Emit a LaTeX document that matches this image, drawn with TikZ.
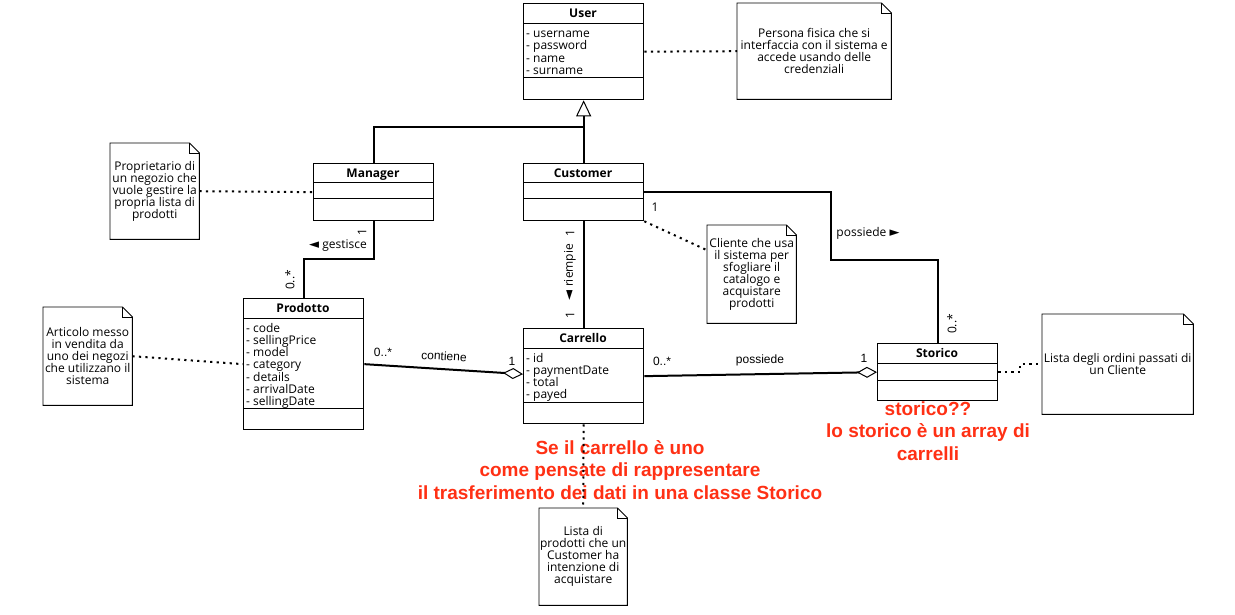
\documentclass[tikz,border=0pt]{standalone}
\usepackage{fontspec}
\setmainfont{Open Sans}
\newfontfamily\arialf{Liberation Sans}
\newfontfamily\symf{DejaVu Sans}
\usetikzlibrary{arrows.meta}
\definecolor{redann}{RGB}{255,48,20}
\newcommand\tightlines{\lineskiplimit=-100pt\lineskip=0pt}
\tikzset{
  classbox/.style={draw, line width=1.3pt, inner sep=0pt, anchor=north west, minimum width=120pt},
  sepline/.style={line width=1pt},
  classtitle/.style={anchor=base, inner sep=0pt, font=\fontsize{12}{12}\bfseries\selectfont},
  classattr/.style={anchor=north west, inner sep=0pt, align=left, font=\fontsize{12}{12.2}\selectfont\tightlines},
  notebox/.style={inner sep=0pt, anchor=north west, align=center, font=\fontsize{12}{12}\selectfont\tightlines},
  noteline/.style={line width=0.9pt},
  conn/.style={line width=2pt},
  dotline/.style={line width=2pt, dash pattern=on 2.2pt off 4.3pt},
  lbl/.style={inner sep=0pt, font=\fontsize{12}{12}\selectfont},
  albl/.style={inner sep=0pt, font=\arialf\fontsize{12}{12}\selectfont},
  redtxt/.style={inner sep=0pt, align=center, text=redann, font=\arialf\bfseries\fontsize{19}{22.7}\selectfont},
}
\newcommand\tri[1]{{\symf\fontsize{13}{13}\selectfont #1}}
% name, x, ytop, sep1 offset, sep2 offset, height, title, attributes
\newcommand\umlclass[8]{%
  \node[classbox, minimum height=#6pt] (#1) at (#2,#3) {};
  \draw[sepline] (#2,#3+#4) -- ++(120,0);
  \draw[sepline] (#2,#3+#5) -- ++(120,0);
  \node[classtitle] at (#2+60,#3+#4/2+4.4) {#7};
  \node[classattr] at (#2+3,#3+#4+5) {#8};
}
% name, x, y, w, h, text
\newcommand\umlnote[6]{%
  \node[notebox, minimum width=#4pt, minimum height=#5pt] (#1) at (#2,#3) {#6};
  \draw[noteline] (#1.north west) -- ([xshift=-10pt]#1.north east) -- ([yshift=-10pt]#1.north east) -- (#1.south east) -- (#1.south west) -- cycle;
  \draw[noteline] ([xshift=-10pt]#1.north east) |- ([yshift=-10pt]#1.north east);
}
\begin{document}
\begin{tikzpicture}[x=1pt,y=-1pt]
\fill[white] (0,0) rectangle (1235,615);
\useasboundingbox (0,0) rectangle (1235,615);

% classes
\umlclass{user}{523}{3}{21}{75}{96}{User}{\strut- username\\\strut- password\\\strut- name\\\strut- surname}
\umlclass{manager}{313}{163}{20}{36}{57}{Manager}{}
\umlclass{customer}{523}{163}{20}{36}{57}{Customer}{}
\umlclass{prodotto}{243}{298}{20}{110}{131}{Prodotto}{\strut- code\\\strut- sellingPrice\\\strut- model\\\strut- category\\\strut- details\\\strut- arrivalDate\\\strut- sellingDate}
\umlclass{carrello}{523}{328}{20}{74}{95}{Carrello}{\strut- id\\\strut- paymentDate\\\strut- total\\\strut- payed}
\umlclass{storico}{877}{343}{20}{37}{57}{Storico}{}

% notes
\umlnote{nuser}{737}{3}{154}{96}{Persona fisica che si\\interfaccia con il sistema e\\accede usando delle\\credenziali}
\umlnote{nmanager}{110}{143}{89}{96}{Proprietario di\\un negozio che\\vuole gestire la\\propria lista di\\prodotti}
\umlnote{ncustomer}{707}{225}{89}{98}{Cliente che usa\\il sistema per\\sfogliare il\\catalogo e\\acquistare\\prodotti}
\umlnote{nprodotto}{43}{307}{89}{98}{Articolo messo\\in vendita da\\uno dei negozi\\che utilizzano il\\sistema}
\umlnote{ncarrello}{539}{508}{88}{97}{Lista di\\prodotti che un\\Customer ha\\intenzione di\\acquistare}
\umlnote{nstorico}{1042}{314}{151}{100}{Lista degli ordini passati di\\un Cliente}

% generalization
\coordinate (genj) at (583,127);
\draw[conn] (manager.north) |- (genj);
\draw[conn, -{Triangle[open, length=16pt, width=15pt, line width=1pt]}] (customer.north) -- (user.south);

% gestisce
\draw[conn] (manager.south) -- ++(0,38) -| (prodotto.north);
\node[lbl, rotate=90] at (362,232) {1};
\node[lbl] at (338,246) {\tri{◄} gestisce};
\node[lbl, rotate=90] at (290,280) {0..*};

% riempie
\draw[conn] (customer.south) -- (carrello.north);
\node[lbl, rotate=90] at (570,233) {1};
\node[lbl, rotate=90] at (570,272) {\tri{◄} riempie};
\node[lbl, rotate=90] at (570,315) {1};

% contiene
\draw[conn, -{Diamond[open, length=20pt, width=11pt, line width=1pt]}] (prodotto.east) -- ([yshift=2pt]carrello.west);
\node[albl] at (383,352) {0..*};
\node[albl, rotate=-3] at (444,356) {contiene};
\node[albl] at (512,361) {1};

% possiede carrello-storico
\draw[conn, -{Diamond[open, length=20pt, width=11pt, line width=1pt]}] (carrello.east) -- (storico.west);
\node[albl] at (662,361) {0..*};
\node[albl] at (760,360) {possiede};
\node[albl] at (864,358) {1};

% possiede customer-storico
\draw[conn] (customer.east) -| (831,260) -| (storico.north);
\node[lbl] at (655,207) {1};
\node[lbl] at (868,233) {possiede \tri{►}};
\node[lbl, rotate=90] at (952,324) {0..*};

% red annotations
\node[redtxt] (q1) at (620,470) {Se il carrello è uno\\come pensate di rappresentare\\il trasferimento dei dati in una classe Storico};
\node[redtxt] (q2) at (928,431) {storico??\\lo storico è un array di\\carrelli};

% note links
\draw[dotline] (user.east) -- (nuser.west);
\draw[dotline] (nmanager.east) -- (manager.west);
\draw[dotline] (customer.south east) -- ([yshift=24pt]ncustomer.west);
\draw[dotline] (nprodotto.east) -- (prodotto.west);
\draw[dotline] (carrello.south) -- (ncarrello.north);
\draw[dotline] (storico.east) -- ++(22,0) |- (nstorico.west);
\end{tikzpicture}
\end{document}
